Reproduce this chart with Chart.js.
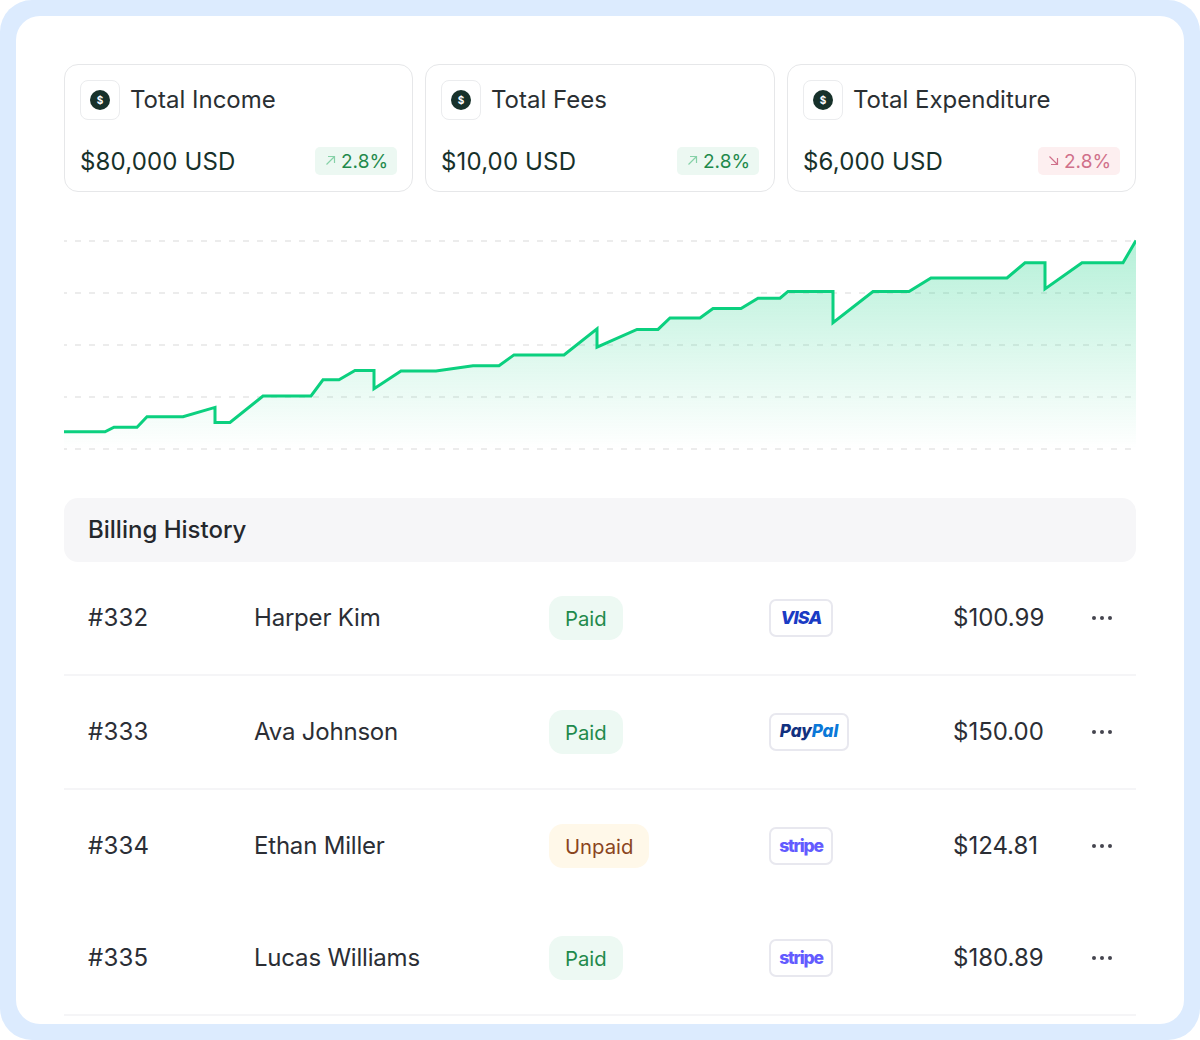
<!DOCTYPE html>
<html>
<head>
<meta charset="utf-8">
<title>Billing</title>
<script src="https://cdn.jsdelivr.net/npm/chart.js@4"></script>
<style>
  * { box-sizing: border-box; }
  html, body { margin: 0; padding: 0; background: #fff; }
  body { width: 1200px; height: 1040px; overflow: hidden; position: relative;
         font-family: Inter, "Noto Sans", sans-serif; color: #25282d; }
  .frame { position: absolute; left: 0; top: 0; width: 1200px; height: 1040px;
           background: #dcebfe; border-radius: 32px; }
  .panel { position: absolute; left: 16px; top: 16px; width: 1168px; height: 1008px;
           background: #fff; border-radius: 24px; }
  .abs { position: absolute; white-space: nowrap; line-height: 1; }
  .card { position: absolute; top: 64px; height: 128px; border: 1px solid #e6e7e9;
          border-radius: 14px; background: #fff; }
  .icon { position: absolute; left: 15px; top: 15px; width: 40px; height: 40px;
          border: 1px solid #ebecee; border-radius: 8px; }
  .icon span { position: absolute; left: 9px; top: 9px; width: 20px; height: 20px; border-radius: 50%;
               background: #17312a; color: #fff; font-size: 10px; font-weight: 700;
               line-height: 20px; text-align: center; }
  .card .title { left: 65px; top: 23px; font-size: 24px; line-height: 24px; color: #2a2f33; }
  .card .value { left: 15px; top: 85px; font-size: 24px; line-height: 24px; color: #17312a; letter-spacing: 0.15px; }
  .delta { position: absolute; top: 82px; right: 15px; width: 82px; height: 28px; border-radius: 5px;
           font-size: 19px; line-height: 29px; padding-left: 26px; }
  .delta svg { position: absolute; left: 10px; top: 8px; }
  .delta.up { background: #ecf8f2; color: #1f8a4c; }
  .delta.down { background: #fdeff0; color: #d0708a; }
  #chart { position: absolute; left: 64px; top: 232px; }
  .head { position: absolute; left: 64px; top: 498px; width: 1072px; height: 64px; background: #f6f6f8;
          border-radius: 14px; font-size: 24px; font-weight: 500; line-height: 64px; padding-left: 24px; color: #25282d; }
  .cell { font-size: 24px; line-height: 24px; color: #2b2e35; }
  .cell.name { letter-spacing: -0.2px; }
  .cell.num { letter-spacing: 0.2px; }
  .pill { position: absolute; left: 549px; height: 44px; border-radius: 14px; font-size: 20.3px;
          line-height: 46px; padding: 0 16px; }
  .pill.paid { background: #edf9f3; color: #1f8a4c; }
  .pill.unpaid { background: #fff8e9; color: #8a4420; }
  .brand { position: absolute; left: 769px; height: 38px; border: 2px solid #e8e8ef; border-radius: 7px;
           background: #fff; text-align: center; line-height: 33px; font-weight: 800; font-size: 17px; }
  .dots { position: absolute; left: 1092px; display: flex; gap: 4px; }
  .dots i { display: block; width: 4px; height: 4px; border-radius: 50%; background: #45454f; }
  .rule { position: absolute; left: 64px; width: 1072px; height: 2px; background: #f5f5f7; }
</style>
</head>
<body>
<div class="frame"></div>
<div class="panel"></div>
<div id="cards"></div>
<canvas id="chart"></canvas>
<div class="head">Billing History</div>
<div id="rows"></div>
<script>
// summary cards
const cardTitles = ["Total Income", "Total Fees", "Total Expenditure"];
const cardValues = ["$80,000 USD", "$10,00 USD", "$6,000 USD"];
const cardDeltas = ["2.8%", "2.8%", "2.8%"];
const cardTrends = ["up", "up", "down"];

// area line
const lineX = [0, 41, 50, 73, 83, 119, 151, 151, 166, 199, 247, 259, 275, 291, 310, 310, 337, 372, 409, 435, 450, 500, 533, 533, 573, 594, 606, 636, 649, 677, 694, 716, 724, 769, 769, 809, 845, 867, 943, 961, 981, 981, 1018, 1059, 1072];
const lineY = [32, 32, 41, 41, 61, 61, 79, 50, 50, 101, 101, 132, 132, 150, 150, 115, 149, 149, 159, 159, 180, 180, 230, 195, 229, 229, 251, 251, 269, 269, 289, 289, 302, 302, 242, 302, 302, 328, 328, 357, 357, 307, 357, 357, 400];

// billing table
const invoiceIds = ["#332", "#333", "#334", "#335"];
const customers = ["Harper Kim", "Ava Johnson", "Ethan Miller", "Lucas Williams"];
const statuses = ["Paid", "Paid", "Unpaid", "Paid"];
const brands = ["VISA", "PayPal", "stripe", "stripe"];
const amounts = ["$100.99", "$150.00", "$124.81", "$180.89"];

const cardLefts = [64, 425, 787];
const cardWidths = [349, 350, 349];
const rowCenters = [618, 732, 846, 958];
const ruleTops = [674, 788, 1014];

const arrowUp = '<svg width="11" height="11" viewBox="0 0 11 11" fill="none" stroke="#86d1a8" stroke-width="1.2"><path d="M1.5 9.5 L9 2 M3 1.5 H9.5 V8"/></svg>';
const arrowDown = '<svg width="11" height="11" viewBox="0 0 11 11" fill="none" stroke="#d0708a" stroke-width="1.2"><path d="M1.5 1.5 L9 9 M9.5 3 V9.5 H3"/></svg>';

const cardsEl = document.getElementById("cards");
cardTitles.forEach((title, i) => {
  const up = cardTrends[i] === "up";
  cardsEl.innerHTML +=
    `<div class="card" style="left:${cardLefts[i]}px;width:${cardWidths[i]}px">
       <div class="icon"><span>$</span></div>
       <div class="abs title">${title}</div>
       <div class="abs value">${cardValues[i]}</div>
       <div class="delta ${cardTrends[i]}">${up ? arrowUp : arrowDown}${cardDeltas[i]}</div>
     </div>`;
});

function brandMarkup(name) {
  if (name === "VISA") return '<span style="color:#1a3bc4;font-style:italic;font-size:18px;letter-spacing:-.8px">VISA</span>';
  if (name === "PayPal") return '<span style="color:#12317f;font-style:italic">Pay</span><span style="color:#0a78d8;font-style:italic">Pal</span>';
  return '<span style="color:#635bff;letter-spacing:-1.2px;font-size:17.5px">stripe</span>';
}

const rowsEl = document.getElementById("rows");
invoiceIds.forEach((id, i) => {
  const y = rowCenters[i];
  const unpaid = statuses[i] === "Unpaid";
  const brandW = brands[i] === "PayPal" ? 80 : 64;
  rowsEl.innerHTML +=
    `<div class="abs cell num" style="left:88px;top:${y - 12}px">${id}</div>
     <div class="abs cell name" style="left:254px;top:${y - 12}px">${customers[i]}</div>
     <div class="pill ${unpaid ? "unpaid" : "paid"}" style="top:${y - 22}px">${statuses[i]}</div>
     <div class="brand" style="top:${y - 19}px;width:${brandW}px">${brandMarkup(brands[i])}</div>
     <div class="abs cell" style="left:953px;top:${y - 12}px">${amounts[i]}</div>
     <div class="dots" style="top:${y - 2}px"><i></i><i></i><i></i></div>`;
});
ruleTops.forEach((t) => {
  rowsEl.innerHTML += `<div class="rule" style="top:${t}px"></div>`;
});

const canvas = document.getElementById("chart");
canvas.width = 1072;
canvas.height = 224;
canvas.style.width = "1072px";
canvas.style.height = "224px";

new Chart(canvas, {
  type: "line",
  data: {
    datasets: [{
      data: lineX.map((x, i) => ({ x: x, y: lineY[i] })),
      borderColor: "#0bd07f",
      borderWidth: 3,
      pointRadius: 0,
      tension: 0,
      clip: false,
      fill: "origin",
      backgroundColor: (ctx) => {
        const area = ctx.chart.chartArea;
        if (!area) return "transparent";
        const g = ctx.chart.ctx.createLinearGradient(0, area.top, 0, area.bottom);
        g.addColorStop(0, "rgba(11,206,127,0.30)");
        g.addColorStop(1, "rgba(11,206,127,0)");
        return g;
      },
    }],
  },
  options: {
    responsive: false,
    animation: false,
    devicePixelRatio: 1,
    layout: { padding: { top: 8.5, bottom: 7.5, left: 0, right: 0 } },
    plugins: { legend: { display: false }, tooltip: { enabled: false } },
    scales: {
      x: { type: "linear", min: 0, max: 1072, display: false },
      y: {
        min: 0,
        max: 400,
        ticks: { display: false, stepSize: 100 },
        border: { display: false, dash: [6, 8], dashOffset: 3 },
        grid: { color: "#ececec", lineWidth: 2, drawTicks: false },
      },
    },
  },
});
</script>
</body>
</html>
